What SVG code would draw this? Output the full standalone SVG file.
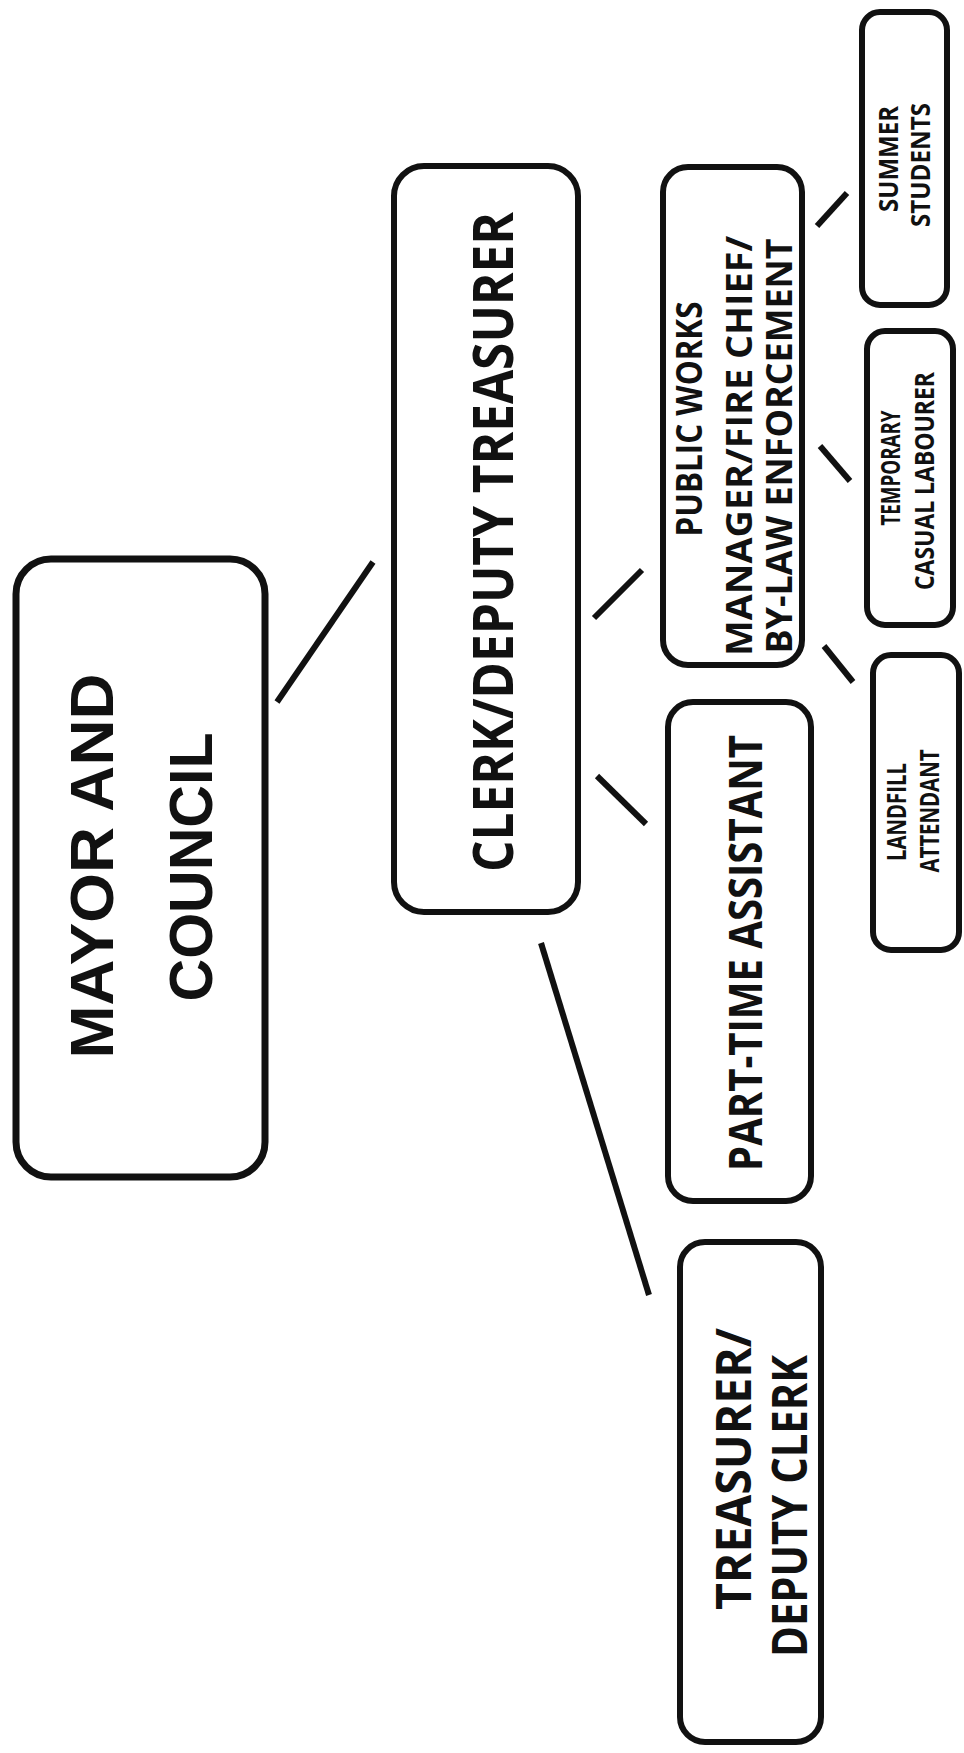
<svg xmlns="http://www.w3.org/2000/svg" width="964" height="1753" viewBox="0 0 964 1753">
<style>
.box{fill:#fff;stroke:#111;stroke-width:6}
.big{stroke-width:7}
.con line{stroke:#111;stroke-width:6;stroke-linecap:butt}
.t{font-family:"Open Sans","Noto Sans",sans-serif;font-weight:700;fill:#111;text-anchor:middle}
.ta{font-family:"Liberation Sans",Arial,sans-serif;font-weight:bold;fill:#111;text-anchor:middle}
</style>
<rect width="964" height="1753" fill="#fff"/>
<g id="connectors" class="con">
<line x1="277" y1="702" x2="373" y2="562"/>
<line x1="594" y1="618" x2="642" y2="570"/>
<line x1="597" y1="776" x2="646" y2="824"/>
<line x1="541" y1="943" x2="649" y2="1295"/>
<line x1="817" y1="226" x2="847" y2="193"/>
<line x1="820" y1="446" x2="850" y2="481"/>
<line x1="824" y1="646" x2="853" y2="682"/>
</g>
<g id="mayor">
<rect class="box big" x="16" y="559" width="249" height="618" rx="35"/>
<text class="ta" font-size="62" transform="translate(113,866) rotate(-90)" textLength="385" lengthAdjust="spacingAndGlyphs">MAYOR AND</text>
<text class="ta" font-size="62" transform="translate(212,867) rotate(-90)" textLength="269" lengthAdjust="spacingAndGlyphs">COUNCIL</text>
</g>
<g id="clerk">
<rect class="box" x="394" y="166" width="184" height="746" rx="30"/>
<text class="t" font-size="56" transform="translate(513,542) rotate(-90)" textLength="660" lengthAdjust="spacingAndGlyphs">CLERK/DEPUTY TREASURER</text>
</g>
<g id="publicworks">
<rect class="box" x="663" y="167" width="139" height="498" rx="25"/>
<text class="t" font-size="35" transform="translate(702,419) rotate(-90)" textLength="235" lengthAdjust="spacingAndGlyphs">PUBLIC WORKS</text>
<text class="t" font-size="35" transform="translate(752,446) rotate(-90)" textLength="420" lengthAdjust="spacingAndGlyphs">MANAGER/FIRE CHIEF/</text>
<text class="t" font-size="35" transform="translate(792,446) rotate(-90)" textLength="415" lengthAdjust="spacingAndGlyphs">BY-LAW ENFORCEMENT</text>
</g>
<g id="parttime">
<rect class="box" x="668" y="702" width="143" height="499" rx="25"/>
<text class="t" font-size="46" transform="translate(762,953) rotate(-90)" textLength="436" lengthAdjust="spacingAndGlyphs">PART-TIME ASSISTANT</text>
</g>
<g id="treasurer">
<rect class="box" x="680" y="1242" width="141" height="500" rx="25"/>
<text class="t" font-size="49" transform="translate(751,1469) rotate(-90)" textLength="282" lengthAdjust="spacingAndGlyphs">TREASURER/</text>
<text class="t" font-size="49" transform="translate(807,1506) rotate(-90)" textLength="302" lengthAdjust="spacingAndGlyphs">DEPUTY CLERK</text>
</g>
<g id="summer">
<rect class="box" x="862" y="12" width="85" height="293" rx="18"/>
<text class="t" font-size="26" transform="translate(898,159) rotate(-90)" textLength="106" lengthAdjust="spacingAndGlyphs">SUMMER</text>
<text class="t" font-size="26" transform="translate(930,165) rotate(-90)" textLength="124" lengthAdjust="spacingAndGlyphs">STUDENTS</text>
</g>
<g id="temporary">
<rect class="box" x="867" y="331" width="86" height="294" rx="18"/>
<text class="t" font-size="26" transform="translate(900,468) rotate(-90)" textLength="115" lengthAdjust="spacingAndGlyphs">TEMPORARY</text>
<text class="t" font-size="26" transform="translate(934,481) rotate(-90)" textLength="218" lengthAdjust="spacingAndGlyphs">CASUAL LABOURER</text>
</g>
<g id="landfill">
<rect class="box" x="873" y="655" width="86" height="295" rx="18"/>
<text class="t" font-size="26" transform="translate(906,812) rotate(-90)" textLength="98" lengthAdjust="spacingAndGlyphs">LANDFILL</text>
<text class="t" font-size="26" transform="translate(939,811) rotate(-90)" textLength="123" lengthAdjust="spacingAndGlyphs">ATTENDANT</text>
</g>
</svg>
